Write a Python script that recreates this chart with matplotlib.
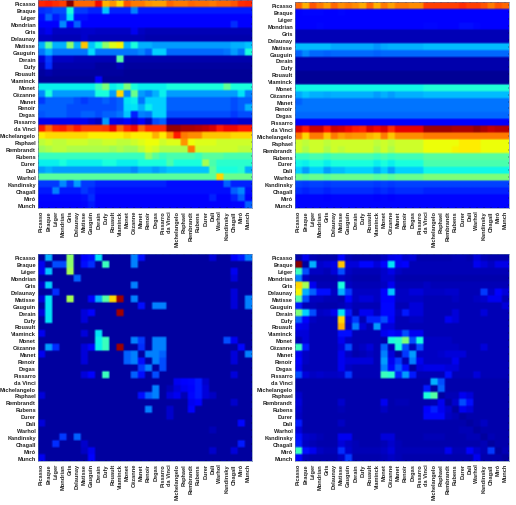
import numpy as np
import matplotlib
matplotlib.use('Agg')
import matplotlib.pyplot as plt

artists = ['Picasso', 'Braque', 'Léger', 'Mondrian', 'Gris', 'Delaunay', 'Matisse', 'Gauguin',
           'Derain', 'Dufy', 'Rouault', 'Vlaminck', 'Monet', 'Cézanne', 'Manet', 'Renoir',
           'Degas', 'Pissarro', 'da Vinci', 'Michelangelo', 'Raphael', 'Rembrandt', 'Rubens',
           'Durer', 'Dali', 'Warhol', 'Kandinsky', 'Chagall', 'Miró', 'Munch']

# values, in percent of the colour range
top_left = [
    [87,88,86,84,99,80,80,80,90,72,75,68,82,78,78,75,74,74,80,78,78,80,79,79,78,80,80,82,86,87],
    [17,18,20,20,38,18,18,16,16,32,16,16,16,25,15,15,15,15,15,15,15,15,15,15,15,15,15,15,15,15],
    [14,22,15,18,35,14,14,12,12,12,12,12,12,12,12,12,12,12,12,12,12,12,12,12,12,12,12,12,12,12],
    [12,12,12,26,12,22,12,12,12,12,12,12,12,12,12,12,12,12,12,12,12,12,12,12,12,12,12,17,12,12],
    [8,10,6,6,6,6,7,7,6,6,6,6,6,10,6,5,5,5,5,5,5,5,5,5,5,5,5,5,5,5],
    [6,6,5,5,5,5,7,5,5,5,5,5,5,5,5,4,4,4,4,4,4,4,4,4,4,4,4,4,4,4],
    [30,46,30,30,52,30,70,32,38,52,62,65,30,38,30,30,28,28,28,28,28,28,28,28,28,28,28,30,30,32],
    [24,30,24,24,24,24,24,34,24,24,24,24,24,24,26,22,33,33,23,23,23,23,23,23,23,23,24,28,24,38],
    [8,18,6,6,6,5,5,5,5,5,5,45,4,4,4,4,4,4,4,4,4,4,4,4,4,4,4,4,4,4],
    [5,17,4,4,4,4,4,4,3,3,3,5,3,3,3,3,3,3,3,3,3,3,3,3,3,3,3,3,3,3],
    [3,4,3,3,3,3,3,3,3,3,3,3,2,2,2,2,2,2,2,2,2,2,2,2,2,2,2,2,2,2],
    [2,2,2,2,2,2,2,2,12,2,2,2,2,2,2,2,2,2,2,2,2,2,2,2,2,2,2,2,2,2],
    [36,36,36,36,36,36,36,36,42,50,36,38,50,38,36,36,36,36,38,38,38,38,38,38,38,38,47,38,38,38],
    [26,38,28,28,28,28,28,28,38,38,28,68,26,48,28,25,30,36,28,28,28,28,28,28,28,28,28,28,35,25],
    [18,22,22,22,22,20,18,20,20,22,20,22,35,36,24,33,33,33,22,22,22,22,22,22,22,22,22,20,22,22],
    [22,22,22,22,20,20,20,20,20,20,20,22,34,35,30,36,33,33,22,22,22,22,22,22,22,22,22,20,22,30],
    [21,22,22,22,20,20,22,22,20,22,22,24,32,16,25,24,33,33,20,20,20,20,20,20,20,20,20,18,20,20],
    [10,10,10,10,10,10,10,8,6,28,10,9,11,8,11,6,20,22,7,7,7,7,7,7,7,7,7,8,7,7],
    [88,80,87,88,84,88,84,84,84,85,90,80,87,90,80,86,86,86,98,98,96,96,95,94,92,88,90,90,88,88],
    [66,68,68,68,68,68,68,66,66,66,66,66,68,66,66,66,72,66,75,88,78,76,76,70,70,70,70,68,68,68],
    [58,60,58,58,60,60,60,58,58,60,60,58,58,60,62,64,64,60,62,62,75,64,62,62,62,60,60,60,60,60],
    [54,56,58,58,56,56,56,56,56,56,54,56,54,54,58,62,60,56,56,56,56,78,60,60,60,60,60,60,58,58],
    [42,42,42,42,42,42,42,42,42,42,42,42,42,42,42,52,46,42,44,44,44,44,42,46,46,46,44,44,44,44],
    [36,36,36,38,36,36,36,36,36,38,38,36,36,36,38,38,38,38,44,38,38,38,38,55,44,40,40,40,40,40],
    [28,30,28,28,28,28,28,28,28,28,28,28,28,26,30,30,28,30,32,32,32,32,32,32,46,38,38,38,40,30],
    [46,46,46,46,46,46,46,46,46,46,46,46,46,46,46,46,46,46,46,46,46,46,46,46,46,68,48,48,48,48],
    [18,18,18,26,18,28,18,18,16,16,16,16,16,16,16,16,16,16,14,14,14,14,14,14,14,14,22,16,16,16],
    [15,15,25,15,15,15,18,16,14,14,14,14,14,14,14,14,14,14,14,14,14,14,14,14,14,14,14,22,26,14],
    [13,13,13,13,13,13,14,17,12,12,12,12,12,12,12,12,12,12,12,12,12,12,12,12,16,12,12,16,22,12],
    [12,12,12,12,12,12,13,15,11,11,11,11,11,11,11,11,11,11,11,11,11,11,11,11,11,11,11,13,13,22],
]

top_right = [
    [80,72,82,78,74,80,76,78,76,73,80,72,78,74,78,78,76,76,84,84,84,84,84,86,84,84,82,78,82,80],
    [12,13,13,13,12,12,13,12,12,12,12,12,12,12,12,12,12,12,12,12,12,12,12,12,12,12,12,12,12,12],
    [12,12,12,12,12,12,12,12,12,12,12,12,12,12,12,12,12,12,12,12,12,12,12,12,12,12,12,12,12,12],
    [12,12,12,13,12,12,12,12,12,12,12,12,12,12,12,12,12,12,13,13,12,12,12,14,14,13,12,12,12,12],
    [5,5,5,5,5,5,5,5,5,5,5,5,5,5,5,5,5,5,5,5,5,5,5,5,5,5,5,5,5,5],
    [5,5,5,5,5,5,5,5,5,5,5,5,5,5,5,5,5,5,5,5,5,5,5,5,5,5,5,5,5,5],
    [31,31,31,31,31,29,29,29,29,29,29,27,29,30,30,30,30,30,31,31,31,31,31,31,31,31,31,31,31,31],
    [22,26,23,23,22,23,23,23,23,23,23,22,23,23,23,23,23,23,23,23,23,23,23,23,23,23,23,23,23,23],
    [4,4,4,4,4,4,4,4,4,4,4,4,4,4,4,4,4,4,4,4,4,4,4,4,4,4,4,4,4,4],
    [4,4,4,4,4,4,4,4,4,4,4,4,4,4,4,4,4,4,4,4,4,4,4,4,4,4,4,4,4,4],
    [2,2,2,2,2,2,2,2,2,2,2,2,2,2,2,2,2,2,2,2,2,2,2,2,2,2,2,2,2,2],
    [2,2,2,2,2,2,2,2,2,2,2,2,2,2,2,2,2,2,2,2,2,2,2,2,2,2,2,2,2,2],
    [37,37,37,37,37,37,37,37,37,37,37,37,37,37,37,37,37,37,39,39,39,39,39,39,39,39,39,39,39,39],
    [29,32,30,30,29,30,30,30,30,30,30,28,30,28,30,30,30,30,31,31,31,31,31,31,31,31,31,31,31,31],
    [22,24,24,24,24,24,24,24,24,24,24,24,24,24,24,24,24,24,24,24,24,24,24,24,24,24,24,24,24,24],
    [24,24,24,24,24,24,24,24,24,24,24,24,24,24,24,24,24,24,24,24,24,24,24,24,24,24,24,24,24,24],
    [23,23,23,23,23,23,23,23,23,23,23,23,23,23,23,23,23,23,23,23,23,23,23,23,23,23,23,23,23,23],
    [12,12,12,12,12,12,12,12,12,12,12,12,12,12,12,12,12,12,11,11,11,11,11,11,11,11,11,11,11,11],
    [92,88,93,93,88,93,92,90,88,87,92,90,92,86,91,91,91,91,97,97,97,97,96,96,96,98,96,94,95,95],
    [78,68,78,78,70,78,74,76,75,75,72,70,78,70,76,76,76,76,78,78,78,78,78,78,78,78,78,78,78,78],
    [60,58,60,60,58,60,60,60,60,60,60,58,60,58,60,60,60,60,64,64,64,64,64,66,66,66,64,64,64,64],
    [60,56,60,60,56,60,58,60,60,60,60,56,60,56,60,60,60,60,64,64,64,64,65,66,66,66,64,64,64,64],
    [42,42,44,44,42,44,44,44,44,44,44,42,44,42,43,43,43,43,46,46,46,46,46,46,46,46,46,46,46,46],
    [37,36,38,38,36,38,38,38,38,38,38,36,38,36,38,38,38,38,44,44,44,44,44,44,44,44,44,44,44,44],
    [33,28,33,33,28,31,31,33,33,33,33,29,33,28,33,33,33,33,37,37,37,37,37,37,37,37,37,37,37,37],
    [48,46,48,48,46,48,48,48,48,48,48,46,48,46,48,48,48,48,50,50,50,50,50,50,50,50,50,50,50,50],
    [19,18,19,19,18,19,19,19,19,19,19,18,19,18,19,19,19,19,19,19,19,19,19,19,19,19,19,19,19,19],
    [17,16,17,17,16,17,17,17,17,17,17,16,17,16,17,17,17,17,16,16,16,16,16,16,16,16,16,16,16,16],
    [13,13,13,13,12,13,13,13,13,13,13,12,13,12,13,13,13,13,13,13,13,13,13,13,13,13,13,13,13,13],
    [13,13,13,13,13,13,13,13,13,13,13,13,13,13,13,13,13,13,13,13,13,13,13,13,13,13,13,13,13,13],
]

bottom_left = [
    [3,30,3,3,52,3,12,14,35,3,3,3,3,25,14,3,3,3,3,3,3,3,3,3,8,3,3,12,15,25],
    [10,3,20,20,52,3,14,17,3,42,3,3,3,25,3,3,3,3,3,3,3,3,3,3,3,3,3,3,3,3],
    [10,32,3,3,55,3,3,3,3,3,3,3,3,3,3,3,3,3,3,3,3,3,3,3,3,3,3,10,3,3],
    [3,3,3,3,3,22,3,3,3,3,3,3,3,3,3,3,3,3,3,3,3,3,3,3,3,3,3,8,3,3],
    [7,33,3,3,3,3,3,3,3,3,3,3,3,25,3,3,3,3,3,3,3,3,3,3,3,3,3,3,3,3],
    [3,3,17,3,3,3,3,3,3,3,3,3,3,3,3,3,3,3,3,3,3,3,3,3,3,3,3,8,3,3],
    [8,35,3,3,55,3,3,12,30,45,68,97,3,25,3,3,3,3,3,3,3,3,3,3,3,3,3,8,3,25],
    [3,35,3,3,3,3,3,3,3,3,3,3,3,3,14,3,25,25,3,3,3,3,3,3,3,3,3,8,3,25],
    [8,35,3,3,3,3,8,12,3,3,3,97,3,3,3,3,3,3,3,3,3,3,3,3,3,3,3,3,3,3],
    [3,35,3,3,3,3,8,3,3,3,3,3,3,3,3,3,3,3,3,3,3,3,3,3,3,3,3,3,3,3],
    [3,3,3,3,3,3,3,3,3,3,3,3,3,3,3,3,3,3,3,3,3,3,3,3,3,3,3,3,3,3],
    [10,3,3,3,3,3,8,3,35,3,3,3,3,3,3,3,3,3,3,3,3,3,3,3,3,3,3,3,3,3],
    [3,3,3,3,3,3,3,3,36,42,3,3,3,25,18,3,25,25,3,3,3,3,3,3,3,3,20,10,3,3],
    [3,28,17,3,3,3,8,11,36,42,3,97,3,3,17,3,25,25,3,3,3,3,3,3,3,3,3,3,13,3],
    [10,3,3,3,3,3,8,3,3,3,3,3,22,25,3,25,25,22,3,3,3,3,3,3,3,3,3,8,3,25],
    [3,3,3,3,3,3,8,3,3,3,3,3,22,25,14,3,25,20,3,3,3,3,3,3,3,3,3,8,3,3],
    [3,3,3,3,3,3,3,3,3,3,3,3,3,3,18,25,3,20,3,3,3,3,3,3,3,3,3,3,3,3],
    [3,3,3,3,3,3,8,12,3,42,3,3,3,22,14,3,20,3,3,3,3,3,3,3,3,3,3,8,3,3],
    [3,3,3,3,3,3,3,3,3,3,3,3,3,3,3,3,3,3,3,10,12,13,15,7,3,3,3,3,3,3],
    [3,3,3,3,3,3,3,3,3,3,3,3,3,3,3,3,25,3,5,8,10,12,15,8,3,3,3,3,3,3],
    [8,3,3,3,3,3,3,3,3,3,3,3,3,3,14,22,25,3,8,10,5,13,15,8,6,3,3,3,3,3],
    [3,3,3,3,3,3,3,3,3,3,3,3,3,3,3,3,3,3,3,3,3,10,12,3,3,3,3,7,3,3],
    [3,3,3,3,3,3,3,3,3,3,3,3,3,3,3,25,3,3,7,3,3,12,3,3,3,3,3,3,3,3],
    [3,3,3,3,3,3,3,3,3,3,3,3,3,3,3,3,3,3,7,3,3,3,3,3,3,3,3,3,3,3],
    [8,3,3,3,3,3,3,3,3,3,3,3,3,3,3,3,3,3,3,3,3,3,3,3,3,3,3,3,13,3],
    [3,3,3,3,3,3,3,3,3,3,3,3,3,3,3,3,3,3,3,3,3,3,3,3,5,3,3,3,3,3],
    [3,3,3,18,3,22,3,3,3,3,3,3,3,3,3,3,3,3,3,3,3,3,3,3,3,3,3,3,3,3],
    [3,3,17,3,3,3,7,3,3,3,3,3,3,3,3,3,3,3,3,3,3,3,3,3,3,3,3,3,15,3],
    [3,3,3,3,3,3,6,10,3,3,3,3,3,3,3,3,3,3,3,3,3,3,3,3,7,3,3,8,3,3],
    [10,3,3,3,3,3,3,12,3,3,3,3,3,3,3,3,3,3,3,3,3,3,3,3,3,3,3,3,3,3],
]

bottom_right = [
    [4,10,5,4,4,4,12,5,4,4,4,4,6,9,10,7,8,4,4,4,4,4,5,5,4,8,5,4,4,4],
    [99,3,30,7,8,9,70,8,8,13,13,8,13,35,10,12,5,5,5,5,5,5,5,5,5,10,8,6,9,9],
    [42,20,6,6,5,8,20,6,5,5,5,5,7,9,6,5,5,5,5,5,5,5,5,5,5,5,5,5,5,5],
    [25,6,4,4,4,4,6,5,4,4,4,4,7,7,4,4,4,4,4,4,4,4,4,4,4,4,4,4,4,4],
    [68,55,10,5,5,5,38,6,5,5,5,5,6,10,5,5,5,5,6,5,5,5,5,5,5,5,5,5,5,5],
    [65,30,22,14,14,6,30,18,6,6,6,6,12,32,6,6,8,8,6,6,6,7,7,5,5,5,18,6,12,8],
    [45,20,6,6,5,5,4,12,6,8,8,6,12,12,6,6,6,6,5,5,5,5,6,5,5,6,7,10,10,5],
    [15,5,5,4,4,4,5,7,5,5,5,5,13,13,5,5,8,8,5,5,5,5,5,5,5,5,5,5,5,8],
    [50,33,20,6,7,10,35,15,4,10,10,6,13,13,6,15,8,8,5,5,5,5,8,5,5,5,8,5,5,5],
    [22,12,6,5,5,5,68,8,18,5,16,16,20,12,5,5,6,6,5,5,5,10,8,5,5,5,5,5,5,5],
    [10,9,5,5,5,5,72,6,25,8,5,28,8,8,5,5,5,5,5,5,5,5,5,5,5,5,5,5,5,5],
    [8,8,5,5,5,5,14,14,5,5,5,5,10,13,10,20,10,10,5,5,5,5,5,5,5,5,5,5,5,5],
    [5,8,5,5,5,5,10,6,5,5,5,5,4,38,40,50,20,38,6,6,6,6,5,5,5,5,5,5,5,5],
    [42,15,5,5,5,5,8,20,5,6,8,5,22,5,38,20,5,20,6,6,6,6,6,5,5,5,8,5,5,5],
    [10,6,5,5,5,5,10,6,4,5,6,5,25,8,3,18,28,6,6,6,7,8,8,8,5,5,5,5,5,5],
    [12,6,5,5,5,5,10,8,8,8,8,5,28,10,18,5,25,10,6,6,6,6,10,5,5,5,5,5,5,5],
    [10,5,5,5,5,5,10,6,5,5,5,5,25,13,22,14,3,8,9,9,9,8,8,5,5,5,5,5,5,5],
    [20,8,6,7,6,6,7,18,5,5,5,5,42,40,16,28,15,5,5,5,5,14,5,5,5,8,5,5,5,5],
    [4,4,4,4,4,4,4,4,4,4,4,4,4,4,4,4,4,4,4,30,20,4,4,4,4,4,4,4,4,4],
    [4,4,4,4,4,4,4,4,4,4,4,4,4,4,4,4,4,4,15,3,22,4,4,4,4,4,4,4,4,4],
    [7,4,4,4,4,4,4,4,4,4,4,4,4,4,4,4,4,4,38,45,3,5,5,10,8,4,4,4,4,4],
    [8,4,4,4,4,4,7,4,4,4,4,4,10,4,5,5,4,4,4,5,10,3,7,20,14,4,4,4,4,4],
    [7,4,4,4,4,4,5,4,4,4,4,4,6,4,4,4,4,4,12,16,10,7,3,10,8,4,4,4,4,4],
    [6,4,4,4,4,4,4,4,4,4,4,4,4,4,4,4,4,4,13,13,13,6,5,3,4,4,4,4,4,4],
    [15,4,4,4,4,4,6,4,4,4,4,4,4,4,4,4,4,4,4,4,4,4,4,4,3,4,6,4,4,4],
    [8,4,4,4,4,4,4,4,4,4,4,4,4,4,4,4,4,4,4,4,4,4,4,5,5,3,4,4,4,4],
    [14,7,6,5,4,4,10,10,4,4,4,4,8,8,4,4,4,4,5,5,5,4,4,4,5,5,3,5,4,4],
    [15,6,5,4,4,4,8,6,5,4,4,4,5,7,5,4,4,4,4,4,4,4,4,4,4,4,5,3,4,4],
    [42,14,10,6,5,5,17,7,5,5,5,5,6,8,5,5,5,5,5,5,5,10,5,5,12,7,5,18,3,5],
    [12,5,4,4,4,4,6,18,4,4,4,4,5,6,5,4,4,4,4,4,4,4,4,4,4,10,4,4,4,3],
]

W, H = 516, 506
# left, top, right, bottom of each panel in pixels
panels = [(top_left, 38, 1, 252, 209),
          (top_right, 295, 3, 509, 209),
          (bottom_left, 38, 255, 252, 462),
          (bottom_right, 295, 255, 509, 462)]

plt.rcParams['font.family'] = ['Liberation Sans', 'DejaVu Sans']

fig = plt.figure(figsize=(W / 100, H / 100), dpi=100)
n = len(artists)

for data, x0, y0, x1, y1 in panels:
    ax = fig.add_axes([x0 / W, 1 - y1 / H, (x1 - x0) / W, (y1 - y0) / H])
    # the reference is a soft scan, so keep flat cells with slightly soft edges
    cells = np.kron(np.array(data) / 100, np.ones((3, 3)))
    ax.imshow(cells, cmap='jet', vmin=0, vmax=1, aspect='auto', interpolation='bilinear',
              extent=(-0.5, n - 0.5, n - 0.5, -0.5))
    ax.set_xticks(range(n))
    ax.set_yticks(range(n))
    ax.set_xticklabels(artists, rotation=90, fontsize=4.1, fontweight='bold', color='#222222')
    ax.set_yticklabels(artists, fontsize=4.1, fontweight='bold', color='#222222')
    ax.tick_params(direction='in', length=1, width=0.3, top=True, right=True, pad=1.5)
    for s in ax.spines.values():
        s.set_linewidth(0.4)
        s.set_color('#5570a8')

fig.savefig('out.png', dpi=100)
